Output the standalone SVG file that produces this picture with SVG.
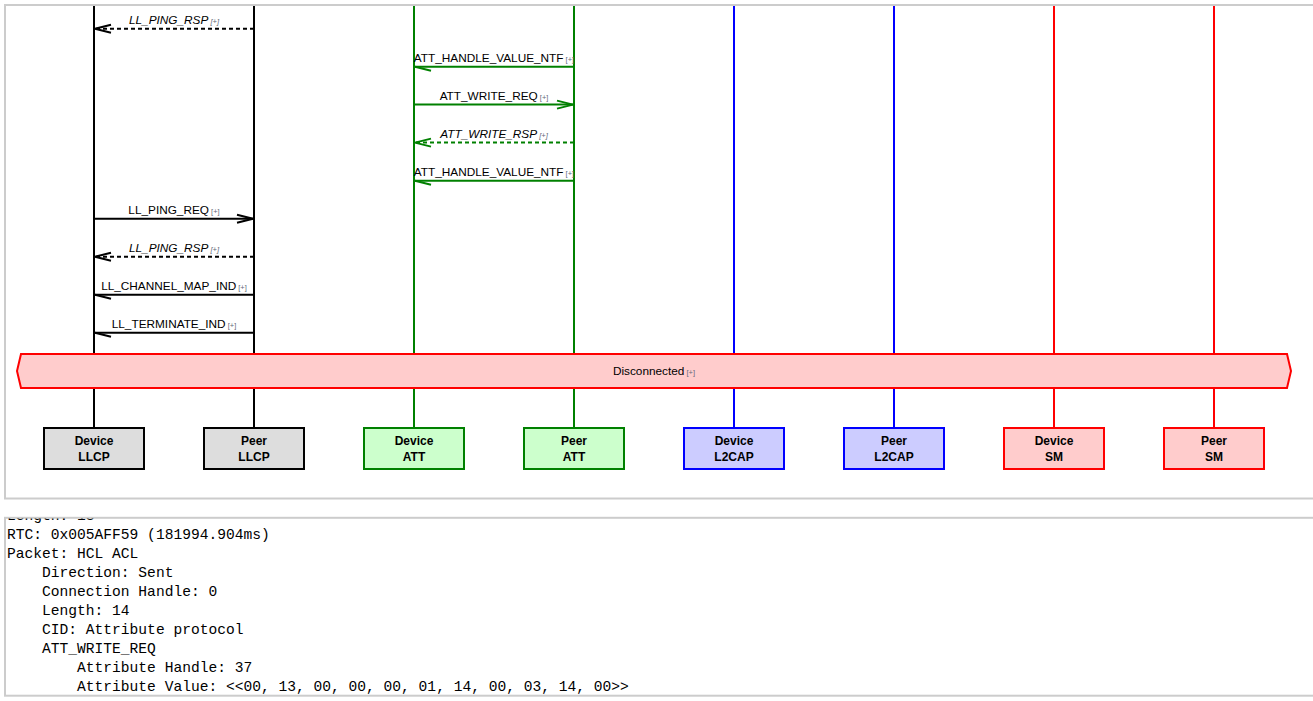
<svg xmlns="http://www.w3.org/2000/svg" width="1313" height="701" viewBox="0 0 1313 701">
<style>
.panel{fill:#fff;stroke:#cccccc;stroke-width:2}
.life{stroke-width:2;fill:none}
.box{stroke-width:2}
.bt{font-family:"Liberation Sans",Arial,sans-serif;font-size:12px;font-weight:bold;text-anchor:middle;fill:#000}
.lbl{font-family:"Liberation Sans",Arial,sans-serif;font-size:11.8px;text-anchor:middle;fill:#000}
.it{font-style:italic}
.more{font-size:7.5px;fill:#646a7a}
.msg{stroke-width:2;fill:none}
.dash{stroke-dasharray:4 3}
.k{stroke:#000}
.g{stroke:#008000}
.mono{font-family:"Liberation Mono","DejaVu Sans Mono",monospace;font-size:14.6px;fill:#000;white-space:pre}
</style>
<defs>
<marker id="fk" markerUnits="userSpaceOnUse" orient="auto" markerWidth="20" markerHeight="12" refX="0" refY="0" viewBox="-18 -6 20 12" overflow="visible"><path d="M-16,-4 L0,0 L-16,4" fill="none" stroke="#000" stroke-width="2"/></marker>
<marker id="hk" markerUnits="userSpaceOnUse" orient="auto" markerWidth="20" markerHeight="12" refX="0" refY="0" viewBox="-18 -6 20 12" overflow="visible"><path d="M0,0 L-16,-4" fill="none" stroke="#000" stroke-width="2"/></marker>
<marker id="fg" markerUnits="userSpaceOnUse" orient="auto" markerWidth="20" markerHeight="12" refX="0" refY="0" viewBox="-18 -6 20 12" overflow="visible"><path d="M-16,-4 L0,0 L-16,4" fill="none" stroke="#008000" stroke-width="2"/></marker>
<marker id="hg" markerUnits="userSpaceOnUse" orient="auto" markerWidth="20" markerHeight="12" refX="0" refY="0" viewBox="-18 -6 20 12" overflow="visible"><path d="M0,0 L-16,-4" fill="none" stroke="#008000" stroke-width="2"/></marker>
<clipPath id="clipTop"><rect x="6" y="6" width="1307" height="491"/></clipPath>
<clipPath id="clipBot"><rect x="6" y="518.5" width="1307" height="176"/></clipPath>
</defs>

<rect class="panel" x="5" y="5" width="1312" height="493.5"/>
<rect class="panel" x="5" y="517.8" width="1312" height="177.9"/>

<g clip-path="url(#clipTop)">
<g id="node-device-llcp">
<line class="life" stroke="#000" x1="94" y1="5" x2="94" y2="428"/>
<rect class="box" x="44" y="428" width="100" height="41" fill="#dddddd" stroke="#000"/>
<text class="bt" x="94" y="445">Device</text><text class="bt" x="94" y="461">LLCP</text>
</g>
<g id="node-peer-llcp">
<line class="life" stroke="#000" x1="254" y1="5" x2="254" y2="428"/>
<rect class="box" x="204" y="428" width="100" height="41" fill="#dddddd" stroke="#000"/>
<text class="bt" x="254" y="445">Peer</text><text class="bt" x="254" y="461">LLCP</text>
</g>
<g id="node-device-att">
<line class="life" stroke="#008000" x1="414" y1="5" x2="414" y2="428"/>
<rect class="box" x="364" y="428" width="100" height="41" fill="#ccffcc" stroke="#008000"/>
<text class="bt" x="414" y="445">Device</text><text class="bt" x="414" y="461">ATT</text>
</g>
<g id="node-peer-att">
<line class="life" stroke="#008000" x1="574" y1="5" x2="574" y2="428"/>
<rect class="box" x="524" y="428" width="100" height="41" fill="#ccffcc" stroke="#008000"/>
<text class="bt" x="574" y="445">Peer</text><text class="bt" x="574" y="461">ATT</text>
</g>
<g id="node-device-l2cap">
<line class="life" stroke="#0000ff" x1="734" y1="5" x2="734" y2="428"/>
<rect class="box" x="684" y="428" width="100" height="41" fill="#ccccff" stroke="#0000ff"/>
<text class="bt" x="734" y="445">Device</text><text class="bt" x="734" y="461">L2CAP</text>
</g>
<g id="node-peer-l2cap">
<line class="life" stroke="#0000ff" x1="894" y1="5" x2="894" y2="428"/>
<rect class="box" x="844" y="428" width="100" height="41" fill="#ccccff" stroke="#0000ff"/>
<text class="bt" x="894" y="445">Peer</text><text class="bt" x="894" y="461">L2CAP</text>
</g>
<g id="node-device-sm">
<line class="life" stroke="#ff0000" x1="1054" y1="5" x2="1054" y2="428"/>
<rect class="box" x="1004" y="428" width="100" height="41" fill="#ffcccc" stroke="#ff0000"/>
<text class="bt" x="1054" y="445">Device</text><text class="bt" x="1054" y="461">SM</text>
</g>
<g id="node-peer-sm">
<line class="life" stroke="#ff0000" x1="1214" y1="5" x2="1214" y2="428"/>
<rect class="box" x="1164" y="428" width="100" height="41" fill="#ffcccc" stroke="#ff0000"/>
<text class="bt" x="1214" y="445">Peer</text><text class="bt" x="1214" y="461">SM</text>
</g>

<g id="connectors">
<line class="msg k dash" x1="254" y1="28.8" x2="95" y2="28.8" marker-end="url(#fk)"/>
<text class="lbl it" x="174" y="23.8">LL_PING_RSP<tspan class="more"> [+]</tspan></text>

<line class="msg g" x1="574" y1="66.8" x2="415" y2="66.8" marker-end="url(#hg)"/>
<text class="lbl" x="494" y="61.8">ATT_HANDLE_VALUE_NTF<tspan class="more"> [+]</tspan></text>

<line class="msg g" x1="414" y1="104.6" x2="573" y2="104.6" marker-end="url(#fg)"/>
<text class="lbl" x="494" y="99.6">ATT_WRITE_REQ<tspan class="more"> [+]</tspan></text>

<line class="msg g dash" x1="574" y1="142.6" x2="415" y2="142.6" marker-end="url(#fg)"/>
<text class="lbl it" x="494" y="137.6">ATT_WRITE_RSP<tspan class="more"> [+]</tspan></text>

<line class="msg g" x1="574" y1="180.7" x2="415" y2="180.7" marker-end="url(#hg)"/>
<text class="lbl" x="494" y="175.7">ATT_HANDLE_VALUE_NTF<tspan class="more"> [+]</tspan></text>

<line class="msg k" x1="94" y1="218.7" x2="253" y2="218.7" marker-end="url(#fk)"/>
<text class="lbl" x="174" y="213.7">LL_PING_REQ<tspan class="more"> [+]</tspan></text>

<line class="msg k dash" x1="254" y1="256.7" x2="95" y2="256.7" marker-end="url(#fk)"/>
<text class="lbl it" x="174" y="251.7">LL_PING_RSP<tspan class="more"> [+]</tspan></text>

<line class="msg k" x1="254" y1="294.7" x2="95" y2="294.7" marker-end="url(#hk)"/>
<text class="lbl" x="174" y="289.7">LL_CHANNEL_MAP_IND<tspan class="more"> [+]</tspan></text>

<line class="msg k" x1="254" y1="332.7" x2="95" y2="332.7" marker-end="url(#hk)"/>
<text class="lbl" x="174" y="327.7">LL_TERMINATE_IND<tspan class="more"> [+]</tspan></text>
</g>

<g id="state-disconnected">
<polygon points="21,354 1287,354 1291,371 1287,388 21,388 17,371" fill="#ffcccc" stroke="#ff0000" stroke-width="2"/>
<text class="lbl" x="654" y="375">Disconnected<tspan class="more"> [+]</tspan></text>
</g>
</g>

<g id="details" clip-path="url(#clipBot)">
<text class="mono" x="7" y="520">Length: 18</text>
<text class="mono" x="7" y="539">RTC: 0x005AFF59 (181994.904ms)</text>
<text class="mono" x="7" y="558">Packet: HCL ACL</text>
<text class="mono" x="7" y="577">    Direction: Sent</text>
<text class="mono" x="7" y="596">    Connection Handle: 0</text>
<text class="mono" x="7" y="615">    Length: 14</text>
<text class="mono" x="7" y="634">    CID: Attribute protocol</text>
<text class="mono" x="7" y="653">    ATT_WRITE_REQ</text>
<text class="mono" x="7" y="672">        Attribute Handle: 37</text>
<text class="mono" x="7" y="691">        Attribute Value: &lt;&lt;00, 13, 00, 00, 00, 01, 14, 00, 03, 14, 00&gt;&gt;</text>
</g>
</svg>
